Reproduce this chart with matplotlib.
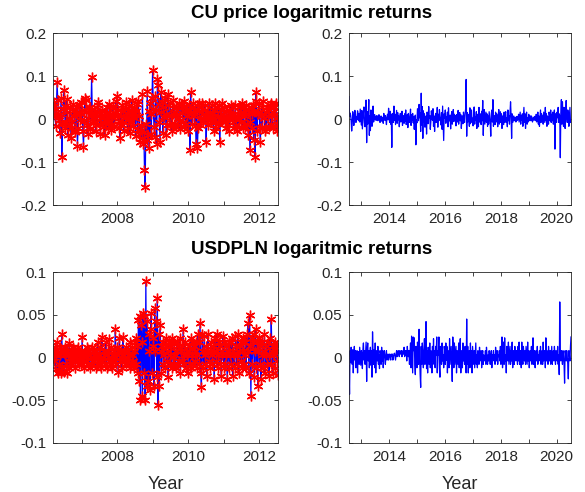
import numpy as np
import pandas as pd
import matplotlib
matplotlib.use('Agg')
import matplotlib.pyplot as plt
import matplotlib.dates as mdates
from matplotlib.ticker import FuncFormatter

plt.rcParams['font.family'] = ['Liberation Sans', 'DejaVu Sans']
plt.rcParams['axes.unicode_minus'] = False

# weekly log returns, in thousandths
CU_IN = [
    12, 31, 38, 6, -17, 24, 85, 44, 9, -3, -32, 11, 50, -88, -12, 23, 68, 30, -21, -8,
    47, 17, -37, -14, 2, 28, -20, -45, -6, 19, 36, 8, -26, -31, 14, 29, -63, -22, 15, 33,
    -3, 39, 12, 21, -29, -64, -5, 49, 44, 16, -14, -34, 3, 25, 27, -24, 18, 98, 11, -10,
    24, 4, -6, -27, -15, 16, 33, 39, 8, -12, -34, 2, 19, 21, -18, 10, -38, -9, 14, 28,
    1, -22, -7, 36, 12, 4, -26, -11, 25, 31, -16, 7, 15, 43, 9, 54, 20, -4, -21, -44,
    6, -15, 33, 19, -8, -29, 24, 5, 40, 13, -21, -2, 30, -33, -7, 20, 45, 9, -17, 3,
    26, 14, -39, 18, 35, -25, 42, 7, -28, -53, -15, -44, 58, -58, -31, -118, -158, -12, -49, 64,
    -37, 19, -68, 38, 11, -34, 48, 113, 24, -18, -43, 53, 21, -59, 93, 78, 34, -6, -53, 62,
    17, 40, -33, 27, 4, 48, 12, -38, -15, 58, 33, 6, -14, 38, 9, -29, -10, 44, 16, 25,
    7, -19, 28, 12, 2, -14, 37, -23, -5, 33, 13, 28, -8, -18, 43, 18, -12, 6, 23, -27,
    11, 32, -73, 63, 16, -12, 27, 38, 8, -17, 22, -58, 33, -68, -22, 18, 37, -13, 3, 28,
    38, 12, -4, 1, 32, 22, -53, 7, 3, -13, 37, 17, -2, -6, 33, 2, 13, -28, 22, 38,
    -8, -22, 27, 5, -12, 32, -53, 6, 22, 38, -4, 12, 3, 27, -8, -22, 18, 2, -13, 22,
    -27, 8, 33, 12, -3, 27, 3, -22, 6, 33, -13, 7, -28, 12, 1, -18, 27, 17, -8, 38,
    -22, 13, 27, 8, -18, 33, -12, 22, -38, 17, -8, -73, 27, 12, -22, 33, -48, 18, -88, 63,
    43, -28, 17, 12, 38, -22, -53, 7, 27, -18, 43, 12, 3, -27, 17, -22, 27, 8, -18, 22,
    33, -12, 38, 7, -22, 17, 27, 12, -17, 38, -27, 3, -12,
]

CU_OUT = [
    52, 6, 14, 9, -4, -28, -11, 17, 8, -15, 3, 20, 12, -8, 5, -2, 19, 10, -4, 13,
    -7, 23, 6, -14, 20, -23, -3, 14, 28, -9, -18, 2, 44, -55, 17, -12, 7, 45, -38, 8,
    -27, 21, 4, -17, 12, 30, -7, 3, 10, -2, 5, -3, 8, 6, -4, 1, 10, 4, -8, 5,
    7, -5, 2, 4, -10, 13, 3, -3, 8, -1, -13, 5, 11, -2, 25, 4, -8, 18, -12, 10,
    -66, 13, 6, -8, 30, -3, 11, -13, 2, 20, -10, 15, -2, 7, -18, 5, 13, -7, 2, 18,
    -15, 8, 4, -10, 12, -5, 21, -13, 3, 10, -20, 13, 1, -8, 5, 23, -15, 10, -2, 13,
    -9, 6, -24, 1, 9, -60, -2, -9, 24, 11, -4, 34, 3, 14, -29, 60, -14, 29, -45, 19,
    -6, 12, -19, -3, 7, -35, 16, 5, -11, 29, 2, 8, -24, -6, 19, 4, -3, 24, -17, 7,
    -29, 3, 13, -8, 1, 27, -19, 11, -4, 22, 6, -2, -14, 15, -24, 30, -7, -50, 12, 2,
    21, -10, 5, -3, 16, -18, 26, -5, 2, 9, -23, 4, 17, -12, -1, 22, -6, 11, -2, 8,
    -16, 10, 3, -7, 20, -12, 6, 15, -4, 10, -22, 1, 7, -11, 16, 2, -8, 12, 23, 92,
    -40, 15, -7, 11, 3, -17, 26, -11, 6, 21, -8, 2, -16, 9, 28, -12, 5, -3, 17, -22,
    11, 6, -18, 27, -7, 3, 12, -13, 18, -4, 43, -38, 7, 22, -12, 3, 16, -8, 12, -17,
    7, -12, 17, 4, -8, -40, 12, 21, -7, 45, -17, 8, 3, -13, 16, -7, 12, 4, -18, 8,
    22, -12, 3, 17, -8, 12, -22, 7, 3, -13, 16, -8, 12, 17, -8, 3, -18, 21, -4, 8,
    -12, 17, 40, 8, -45, 12, -8, 4, 7, -4, 1, 4, -7, 3, 6, -3, 0, 11, -7, 4,
    16, -12, 8, -3, 12, -17, 3, 27, -8, 12, -22, 7, 16, -12, 3, -7, 11, -4, 8, 1,
    -4, 7, 3, -7, 1, 4, -3, 6, 0, -4, 11, -7, 3, 16, -12, 7, -17, 3, 21, -8,
    12, -4, 7, -12, 16, 3, -8, 27, -4, 12, -17, 7, 3, -12, 16, 8, -4, 21, -8, 11,
    -4, 16, -12, 8, 21, -70, 12, 3, -8, 16, 3, 27, -8, 12, 7, -90, 16, 45, -12, 40,
    7, -17, 27, 12, -22, 16, 43, 3, -8, 21, 12, -17, 7, 27, -8, -8,
]

USD_IN = [
    0, 8, -4, 12, -13, 3, 18, -18, 7, -8, 3, 12, -18, 28, -12, 8, -17, 3, 12, -8,
    -18, 8, 3, -12, 17, -4, 8, -8, 3, 12, -4, 1, 8, -12, 3, 8, -4, 12, -8, 3,
    1, 8, -8, 24, -4, 3, -12, 8, 1, -4, 12, -8, 3, 8, -12, 3, 1, -8, 12, -4,
    8, -4, 3, -12, 8, 1, 18, -8, 3, -4, 12, -12, 24, -4, 1, 8, -8, 3, 18, -12,
    3, 8, -4, 22, -8, 1, 12, -12, 3, -4, 8, 1, 33, -8, 3, 12, -17, 8, 23, -4,
    1, 8, -12, 24, 3, -4, 8, -8, 12, 1, -4, 8, 3, -12, 18, -8, 3, 12, -4, 8,
    -12, 18, -8, 23, 13, -18, 44, -28, 48, -50, 38, 18, -45, 52, -18, 48, -50, 90, -33, 43,
    -28, 28, 8, -38, 33, 52, -18, 23, 13, -33, 58, 8, 43, -23, 70, -55, 28, -33, 38, 8,
    -18, 13, 18, -8, 3, -12, 13, 23, -4, 8, -23, 18, 3, -8, 13, -12, 23, 1, -8, 18,
    3, -12, 8, 18, -8, 13, -4, 23, -18, 8, 13, -4, 33, -8, 3, 18, -12, 8, 3, -18,
    13, 8, -8, 23, -12, 3, 18, -8, 13, -4, 8, 18, -12, 3, 28, -8, 18, 40, -18, -35,
    28, 8, -12, 25, -8, 3, 13, -22, 8, 28, -4, 8, -12, 18, 3, -8, 13, 8, -25, 23,
    -4, 8, 28, -12, 3, 18, -8, 13, -22, 8, 3, 25, -12, 18, -8, 3, 13, -25, 8, 18,
    -12, 3, 18, -8, 23, -22, 8, 3, -12, 25, 13, -8, 3, 28, -18, 8, 13, -4, 18, -12,
    8, 23, -8, 3, 18, -12, 28, 8, 40, -18, 50, 13, -45, 23, -8, 18, 28, -23, 8, 33,
    -12, 18, -33, 8, 23, -8, 13, -25, 3, 18, -12, 8, 28, -18, 3, 13, -8, 18, 3, -22,
    23, -8, 45, 8, -18, 13, 3, -12, 18, 8, -4, 13, -20,
]

USD_OUT = [
    -10, -43, 8, -6, 12, 3, -8, 9, -18, 4, 13, -3, 8, -12, 3, 8, -18, 7, 4, -8,
    12, 1, -9, 8, 4, -13, 9, 17, -3, 8, -8, 4, 18, -28, 8, 17, -4, 8, -12, 3,
    12, -9, 8, -23, 30, 4, -8, 9, -12, 17, -18, 3, 8, -4, 13, -8, 3, -13, 8, 4,
    -8, 12, -4, 8, -12, 3, 8, 1, -8, 3, 8, -3, 1, 4, -3, 1, 4, 1, -3, 4,
    1, 4, -3, 1, 4, 5, 1, -3, 4, 8, 1, 4, 8, 4, 1, 8, 4, 5, 8, 1,
    4, 8, 4, 12, 1, 8, 3, 8, -4, 13, 4, 1, 8, -8, 3, 17, -12, 25, 4, -18,
    24, 8, 23, -8, -20, 13, 3, -12, 18, 8, -8, 33, 3, -20, -35, 13, -8, 17, 8, -12,
    3, 22, -8, 13, 42, -13, 8, -18, 12, 3, -8, 17, -12, 8, 3, -18, 13, -4, 22, -8,
    8, -12, 13, 3, 24, -18, 8, 3, 24, -12, -23, 13, 8, -8, 17, -4, 3, -12, 13, 8,
    -8, 17, -3, 13, -18, 8, 3, -12, 22, -8, 3, 13, -4, -28, 24, 8, -12, 17, -8, 3,
    13, -18, 8, 3, -8, 17, -12, 8, 22, -18, 3, 8, -12, 17, -4, 8, -8, 13, 3, -18,
    45, -8, 13, -18, 3, 8, -12, 17, -4, 8, -18, 13, 3, -8, 8, -12, 3, 17, -8, 3,
    -12, 8, 3, -8, 12, -4, 1, 8, -12, 3, 8, -8, 3, 1, -4, 8, -8, 12, 3, -8,
    3, -4, 8, 1, -8, 3, 8, -12, 3, 1, 8, -4, 3, -8, 12, 1, -4, 8, -8, 3,
    1, 8, -4, 13, -8, 3, 24, -12, 8, 18, -8, 23, -4, 3, -18, 13, 8, -4, 18, -8,
    3, 13, -8, 8, -4, 18, -12, 3, 8, -8, 13, 1, -4, 8, 3, -8, 13, -4, 18, -8,
    3, 8, -12, 18, 1, -8, 13, 3, -4, 8, -8, 13, 3, -8, 18, -4, 8, -12, 3, 8,
    -4, 13, -8, 3, 23, -8, 1, 8, -12, 3, 8, -4, 13, -8, 3, 1, 8, -4, 13, -8,
    3, 8, -8, 18, -4, 1, 8, -12, 23, -4, 8, 1, -8, 13, 3, -4, 8, -8, 3, 13,
    -8, 3, 8, -4, 13, 1, -8, 8, 3, -4, 13, -8, 3, -20, 65, 8, -4, 8, 3, -8,
    8, 3, -8, -30, 8, 3, -4, 8, 1, -8, -25, 8, 3, -4, 13, 24,
]

START_IN = '2006-03-06'

TITLES = ['CU price logaritmic returns', 'USDPLN logaritmic returns']
YTICKS_CU = [-0.2, -0.1, 0, 0.1, 0.2]
YTICKS_USD = [-0.1, -0.05, 0, 0.05, 0.1]

dates_in = pd.date_range(START_IN, periods=len(CU_IN), freq='7D')
dates_out = pd.date_range(dates_in[-1] + pd.Timedelta(days=7), periods=len(CU_OUT), freq='7D')

AX_COLOR = '#262626'


def year_fmt(x, pos):
    yr = mdates.num2date(x).year
    return str(yr) if yr % 2 == 0 else ''


def style_axis(ax, dates, yticks):
    ax.set_xlim(dates[0], dates[-1])
    ax.set_ylim(yticks[0], yticks[-1])
    ax.set_yticks(yticks)
    ax.set_yticklabels([('%g' % t) for t in yticks])
    ax.xaxis.set_major_locator(mdates.YearLocator(1))
    ax.xaxis.set_major_formatter(FuncFormatter(year_fmt))
    ax.tick_params(direction='in', length=3, width=0.6, colors=AX_COLOR,
                   labelsize=11, top=True, right=True, pad=5)
    for s in ax.spines.values():
        s.set_color('#262626')
        s.set_linewidth(0.6)


fig = plt.figure(figsize=(5.85, 4.92), dpi=100, facecolor='white')

pos = {
    'tl': [53 / 585, 1 - 205 / 492, 225 / 585, 172 / 492],
    'tr': [349 / 585, 1 - 205 / 492, 222 / 585, 172 / 492],
    'bl': [53 / 585, 1 - 443 / 492, 225 / 585, 171 / 492],
    'br': [349 / 585, 1 - 443 / 492, 222 / 585, 171 / 492],
}

series = [
    ('tl', dates_in, CU_IN, YTICKS_CU, True),
    ('tr', dates_out, CU_OUT, YTICKS_CU, False),
    ('bl', dates_in, USD_IN, YTICKS_USD, True),
    ('br', dates_out, USD_OUT, YTICKS_USD, False),
]

axes = {}
for key, d, vals, yt, marks in series:
    ax = fig.add_axes(pos[key])
    y = np.array(vals) / 1000.0
    ax.plot(d, y, color='#0000FF', lw=0.9)
    if marks:
        ax.plot(d, y, linestyle='none', marker=(6, 2, 0), color='#FF0000',
                markersize=7, mew=1.0)
    style_axis(ax, d, yt)
    axes[key] = ax

for key in ['bl', 'br']:
    axes[key].set_xlabel('Year', fontsize=13, color=AX_COLOR, labelpad=9)

fig.text(312 / 585, 1 - 14 / 492, TITLES[0], fontsize=13.5, fontweight='bold',
         ha='center', va='center', color='black')
fig.text(312 / 585, 1 - 250 / 492, TITLES[1], fontsize=13.5, fontweight='bold',
         ha='center', va='center', color='black')

fig.savefig('out.png', dpi=100, facecolor='white')
